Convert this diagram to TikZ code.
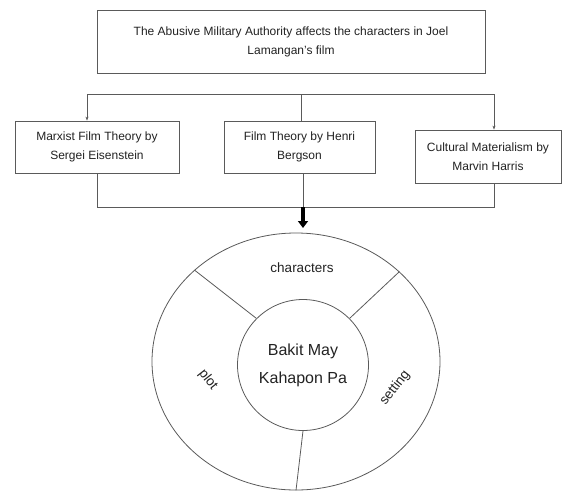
\documentclass[tikz,border=0pt]{standalone}
\usepackage{fontspec}
\setmainfont{Liberation Sans}
\usetikzlibrary{arrows.meta,shapes.geometric}
\definecolor{linegray}{HTML}{5A5A5A}
\definecolor{txt}{HTML}{222222}
\tikzset{
  box/.style={draw=linegray, line width=0.8pt, rectangle, align=center, inner sep=0pt,
    text=txt, font=\fontsize{12}{19}\selectfont},
  conn/.style={draw=linegray, line width=0.8pt},
  smallarr/.style={conn, -{Stealth[length=4pt,width=3pt]}},
  bigarr/.style={draw=black, line width=3.5pt, -{Triangle[length=7pt,width=10pt]}},
  ring/.style={draw=linegray, line width=0.8pt, inner sep=0pt},
  seglabel/.style={text=txt, font=\fontsize{13.5}{16}\selectfont, inner sep=0pt},
}
\begin{document}
\begin{tikzpicture}[x=1pt,y=-1pt]
\useasboundingbox (0,0) rectangle (563,491);
% boxes
\node[box, minimum width=388pt, minimum height=63pt] (top) at (291,42)
  {The Abusive Military Authority affects the characters in Joel\\Lamangan's film};
\node[box, minimum width=164pt, minimum height=52pt] (lbox) at (97,147)
  {Marxist Film Theory by\\Sergei Eisenstein};
\node[box, minimum width=151pt, minimum height=52pt] (mbox) at (299.5,147)
  {Film Theory by Henri\\Bergson};
\node[box, minimum width=146pt, minimum height=53pt] (rbox) at (488,156.5)
  {Cultural Materialism by\\Marvin Harris};
% top distribution line
\coordinate (tl) at (87,94);
\coordinate (tm) at (301,94);
\coordinate (tr) at (494,94);
\draw[conn] (tl) -- (tr);
\draw[smallarr] (tl) -- (tl |- lbox.north);
\draw[conn] (tm) -- (tm |- mbox.north);
\draw[smallarr] (tr) -- (tr |- rbox.north);
% bottom collecting line
\coordinate (bl) at (97,207);
\coordinate (bm) at (303,207);
\coordinate (br) at (494,207);
\draw[conn] (lbox.south) -- (bl) -- (br) -- (br |- rbox.south);
\draw[conn] (bm |- mbox.south) -- (bm);
% rings
\node[ring, ellipse, minimum width=288pt, minimum height=257pt] (outer) at (296,361.5) {};
\node[ring, circle, minimum size=131pt, align=center, text=txt,
  font=\fontsize{16}{28}\selectfont] (inner) at (303,365) {Bakit May\\Kahapon Pa};
\coordinate (at) at (303,228);
\draw[bigarr] (bm) -- (at);
% dividers
\draw[conn] (inner.135) -- (outer.138.5);
\draw[conn] (inner.45) -- (outer.41);
\draw[conn] (inner.270) -- (outer.270);
% segment labels
\node[seglabel] (chars) at (302,268) {characters};
\node[seglabel, rotate=-52] (plot) at (208,380) {plot};
\node[seglabel, rotate=52] (setting) at (395,388) {setting};
\end{tikzpicture}
\end{document}
